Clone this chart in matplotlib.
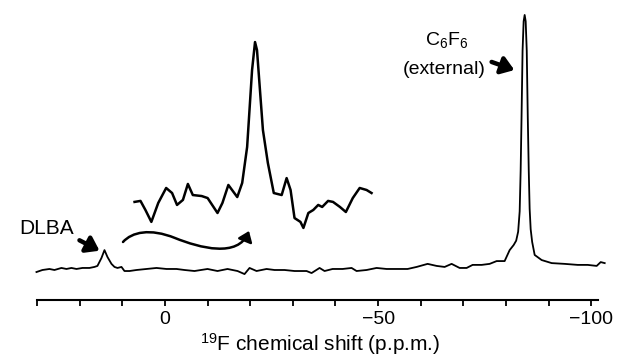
import matplotlib
matplotlib.use("Agg")
import matplotlib.pyplot as plt
from matplotlib.patches import FancyArrowPatch
from matplotlib.path import Path
from matplotlib.ticker import FixedLocator, FuncFormatter

plt.rcParams['font.family'] = ['Liberation Sans', 'DejaVu Sans']
plt.rcParams['mathtext.fontset'] = 'custom'
plt.rcParams['mathtext.rm'] = 'Liberation Sans'
plt.rcParams['mathtext.it'] = 'Liberation Sans'

# Main spectrum: chemical shift (p.p.m.) and relative intensity
shift_ppm = [30.16, 28.76, 27.11, 25.94, 24.30, 23.12, 21.95, 20.77, 19.37, 17.72,
             16.55, 15.85, 14.91, 14.20, 13.50, 12.56, 11.85, 11.15, 10.21, 9.51,
             8.33, 6.69, 4.34, 1.99, -0.35, -2.70, -4.58, -6.92, -9.98, -12.32,
             -14.67, -17.02, -18.66, -19.84, -21.48, -23.83, -25.70, -28.05, -30.40, -33.22,
             -34.39, -36.27, -37.44, -39.32, -41.67, -43.78, -44.95, -47.30, -49.65, -52.00,
             -54.34, -56.92, -59.04, -61.62, -63.73, -65.61, -67.25, -69.13, -70.77, -72.18,
             -74.30, -76.17, -77.82, -79.69, -80.87, -81.81, -82.40, -82.86, -83.22, -83.45,
             -83.66, -83.90, -84.15, -84.39, -84.63, -84.88, -85.12, -85.35, -85.56, -85.80,
             -86.15, -86.74, -88.38, -90.73,
             -93.78, -96.83, -99.18, -101.29, -102.23, -103.17]
intensity = [-0.008, 0.000, 0.004, 0.000, 0.008, 0.004, 0.008, 0.004, 0.008, 0.008,
             0.012, 0.016, 0.047, 0.078, 0.051, 0.024, 0.012, 0.008, 0.012, -0.004,
             -0.004, 0.000, 0.004, 0.008, 0.004, 0.004, 0.000, -0.004, 0.004, -0.004,
             0.004, -0.004, -0.016, 0.008, -0.004, 0.004, 0.000, 0.000, -0.004, -0.004,
             -0.012, 0.008, -0.004, 0.004, 0.004, 0.008, -0.004, 0.000, 0.008, 0.004,
             0.004, 0.004, 0.012, 0.024, 0.016, 0.012, 0.024, 0.008, 0.008, 0.020,
             0.020, 0.024, 0.035, 0.035, 0.078, 0.098, 0.115, 0.150, 0.230, 0.390,
             0.600, 0.860, 0.975, 1.000, 0.975, 0.860, 0.600, 0.390, 0.240, 0.160,
             0.110, 0.059, 0.039, 0.027,
             0.024, 0.020, 0.020, 0.016, 0.031, 0.027]

# Expanded DLBA region (inset)
inset_ppm = [26.2, 25.6, 25.1, 24.5, 23.8, 23.0, 22.4, 21.9, 21.3, 20.8,
             20.3, 19.4, 18.8, 17.8, 17.3, 16.7, 15.8, 15.3, 14.8, 14.3,
             14.0, 13.8, 13.2, 12.7, 12.1, 11.3, 10.8, 10.4, 10.0, 9.4,
             9.1, 8.6, 8.1, 7.6, 7.2, 6.6, 6.1, 5.4, 4.8, 4.1,
             3.4, 2.7, 2.2]
inset_intensity = [0.048, 0.054, 0.000, -0.071, 0.042, 0.131, 0.101, 0.030, 0.060, 0.155,
                   0.089, 0.083, 0.071, -0.018, 0.042, 0.149, 0.077, 0.161, 0.375, 0.833,
                   1.000, 0.952, 0.476, 0.280, 0.101, 0.089, 0.190, 0.119, -0.048, -0.071,
                   -0.107, -0.018, 0.000, 0.030, 0.018, 0.054, 0.048, 0.018, -0.012, 0.071,
                   0.131, 0.119, 0.101]

tick_values = [30, 20, 10, 0, -10, -20, -30, -40, -50, -60, -70, -80, -90, -100]
labelled_ticks = [0, -50, -100]

W, H = 618, 362
fig = plt.figure(figsize=(W / 100, H / 100), dpi=100)

def fx(px):
    return px / W

def fy(py):
    return (H - py) / H

ax = fig.add_axes([0.0532, 0.1713, 0.931, 0.815])
ax.plot(shift_ppm, intensity, color='black', lw=1.3, solid_joinstyle='round')
ax.set_xlim(31, -104)
ax.set_ylim(-0.1176, 1.0392)
for s in ['top', 'right', 'left']:
    ax.spines[s].set_visible(False)
ax.spines['bottom'].set_bounds(30, -101.5)
ax.spines['bottom'].set_linewidth(1.5)
ax.set_yticks([])
ax.xaxis.set_major_locator(FixedLocator(tick_values))
ax.xaxis.set_major_formatter(FuncFormatter(
    lambda v, p: (('\u2212' + str(int(-v))) if v < 0 else str(int(v))) if int(round(v)) in labelled_ticks else ''))
ax.tick_params(axis='x', direction='out', length=4, width=1.3, labelsize=14, pad=4)
ax.set_xlabel('$^{19}$F chemical shift (p.p.m.)', fontsize=15, labelpad=2)

# inset
axi = fig.add_axes([fx(131.6), fy(235), (374.5 - 131.6) / W, 200 / H])
axi.plot(inset_ppm, inset_intensity, color='black', lw=1.8, solid_joinstyle='round')
axi.set_xlim(26.5, 1.9)
axi.set_ylim(-0.149, 1.042)
axi.axis('off')

# labels and arrows
fig.text(fx(47), fy(229), 'DLBA', fontsize=15, ha='center', va='center')
fig.patches.append(FancyArrowPatch((fx(77), fy(239)), (fx(102), fy(252)),
                                   transform=fig.transFigure, arrowstyle='-|>,head_length=5,head_width=3.5',
                                   mutation_scale=1.5, lw=3.2, color='black'))

fig.text(fx(447), fy(40), 'C$_6$F$_6$', fontsize=14, ha='center', va='center')
fig.text(fx(444), fy(70), '(external)', fontsize=14, ha='center', va='center')
fig.patches.append(FancyArrowPatch((fx(489), fy(61)), (fx(517), fy(71)),
                                   transform=fig.transFigure, arrowstyle='-|>,head_length=5,head_width=3.5',
                                   mutation_scale=1.5, lw=3.2, color='black'))

verts = [(fx(123), fy(242)), (fx(132), fy(232)), (fx(150), fy(228)), (fx(175), fy(238)),
         (fx(200), fy(248)), (fx(238), fy(258)), (fx(249), fy(231))]
codes = [Path.MOVETO, Path.CURVE4, Path.CURVE4, Path.CURVE4, Path.CURVE4, Path.CURVE4, Path.CURVE4]
fig.patches.append(FancyArrowPatch(path=Path(verts, codes), transform=fig.transFigure,
                                   arrowstyle='-|>,head_length=4,head_width=3', mutation_scale=1.5,
                                   lw=1.8, color='black'))

fig.savefig('out.png', dpi=100)
